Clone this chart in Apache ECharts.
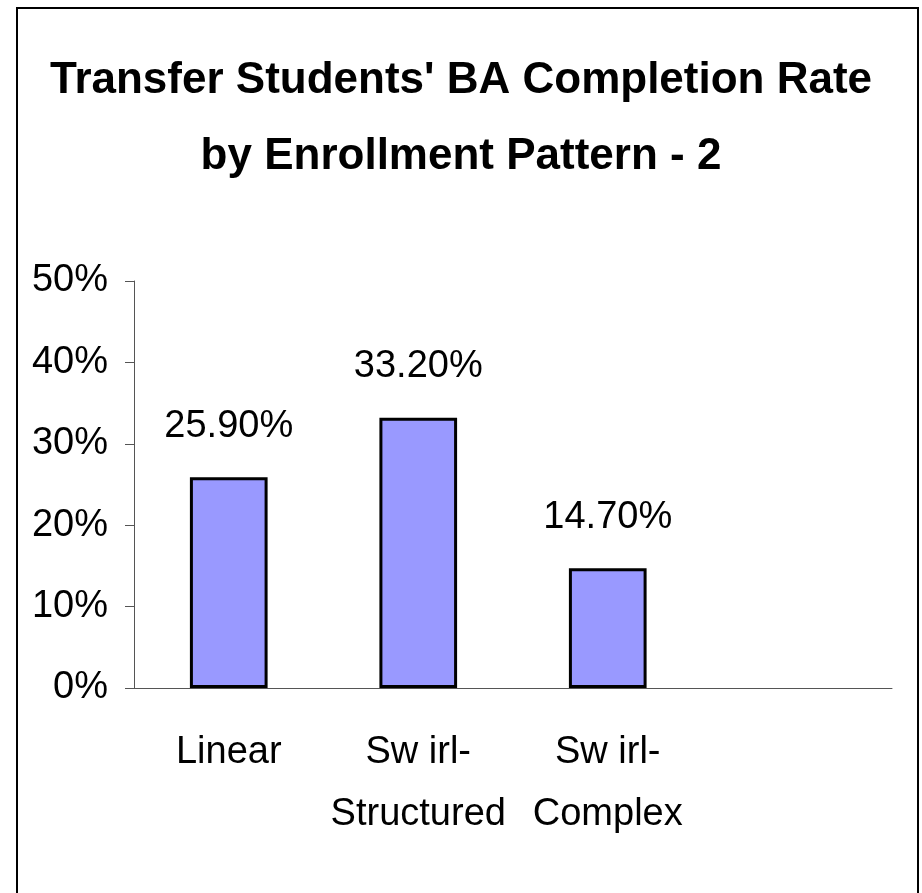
<!DOCTYPE html>
<html>
<head>
    <meta charset="utf-8">
    <title>Transfer Students' BA Completion Rate</title>
    <script src="https://cdn.jsdelivr.net/npm/echarts@6/dist/echarts.min.js"></script>
    <style>
        html, body { margin: 0; padding: 0; background: #fff; }
        #chart { width: 922px; height: 893px; }
    </style>
</head>
<body>
    <div id="chart"></div>
    <script>
        // data
        const categories = ['Linear', 'Sw irl-\nStructured', 'Sw irl-\nComplex', ''];
        const rates = [25.9, 33.2, 14.7, null];
        const yTicks = [0, 10, 20, 30, 40, 50];

        const font = "'Liberation Sans Narrow', 'Arial Narrow', Arial, sans-serif";

        const chart = echarts.init(document.getElementById('chart'));

        chart.setOption({
            animation: false,
            backgroundColor: '#fff',
            title: {
                text: "Transfer Students' BA Completion Rate\nby Enrollment Pattern - 2",
                left: 'center',
                top: 38,
                textStyle: {
                    fontFamily: font,
                    fontWeight: 'bold',
                    fontSize: 44,
                    lineHeight: 76,
                    color: '#000'
                }
            },
            // outer frame
            graphic: [{
                type: 'rect',
                shape: { x: 17, y: 8, width: 901, height: 900 },
                style: { fill: 'none', stroke: '#000', lineWidth: 2 },
                silent: true
            }],
            grid: { left: 134, right: 30, top: 281, bottom: 205 },
            xAxis: {
                type: 'category',
                data: categories,
                axisLine: { lineStyle: { color: '#555', width: 1 } },
                axisTick: { length: 12, lineStyle: { color: '#555' } },
                axisLabel: {
                    fontFamily: font,
                    fontSize: 38,
                    lineHeight: 62,
                    color: '#000',
                    margin: 34,
                    interval: 0
                }
            },
            yAxis: {
                type: 'value',
                min: yTicks[0],
                max: yTicks[yTicks.length - 1],
                interval: 10,
                splitLine: { show: false },
                axisLine: { show: true, lineStyle: { color: '#555', width: 1 } },
                axisTick: { show: true, length: 9, lineStyle: { color: '#555' } },
                axisLabel: {
                    fontFamily: font,
                    fontSize: 38,
                    color: '#000',
                    margin: 26,
                    formatter: '{value}%'
                }
            },
            series: [{
                type: 'bar',
                data: rates,
                barWidth: '41%',
                itemStyle: {
                    color: '#9999FF',
                    borderColor: '#000',
                    borderWidth: 3
                },
                label: {
                    show: true,
                    position: 'top',
                    distance: 32,
                    fontFamily: font,
                    fontSize: 38,
                    color: '#000',
                    formatter: function (p) { return p.value.toFixed(2) + '%'; }
                }
            }]
        });
    </script>
</body>
</html>
